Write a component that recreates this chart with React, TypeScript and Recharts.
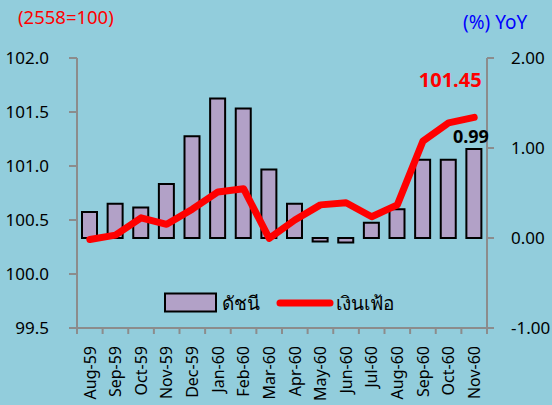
import React from 'react';
import { ComposedChart, Bar, Line, XAxis, YAxis, LabelList, Legend } from 'recharts';

const months = ['Aug-59', 'Sep-59', 'Oct-59', 'Nov-59', 'Dec-59', 'Jan-60', 'Feb-60', 'Mar-60', 'Apr-60', 'May-60', 'Jun-60', 'Jul-60', 'Aug-60', 'Sep-60', 'Oct-60', 'Nov-60'];
const yoyValues = [0.29, 0.38, 0.34, 0.6, 1.13, 1.55, 1.44, 0.76, 0.38, -0.04, -0.05, 0.17, 0.32, 0.87, 0.87, 0.99];
const indexValues = [100.32, 100.36, 100.52, 100.46, 100.6, 100.76, 100.79, 100.33, 100.5, 100.64, 100.66, 100.53, 100.64, 101.23, 101.4, 101.45];
const leftTicks = [99.5, 100.0, 100.5, 101.0, 101.5, 102.0];
const rightTicks = [-1, 0, 1, 2];
const barName = 'ดัชนี';
const lineName = 'เงินเฟ้อ';
const leftTitle = '(2558=100)';
const rightTitle = '(%) YoY';

const data = months.map((m, i) => ({ month: m, yoy: yoyValues[i], index: indexValues[i] }));
const last = months.length - 1;

const FONT = '"Noto Sans", "DejaVu Sans", sans-serif';
const BG = '#92CDDC';
const AXIS = '#8C8C8C';

const XTick = (props: any) => {
  const { x, y, payload, index } = props;
  const half = payload && payload.offset ? payload.offset : 12.8;
  const ty = y + 18;
  return (
    <g>
      <line x1={x - half} x2={x - half} y1={y} y2={y + 6} stroke={AXIS} strokeWidth={2} />
      {index === last ? <line x1={x + half} x2={x + half} y1={y} y2={y + 6} stroke={AXIS} strokeWidth={2} /> : null}
      <text x={x} y={ty} transform={`rotate(-90, ${x}, ${ty})`} textAnchor="end" dy="0.36em" fontSize={16} fill="#000" fontFamily={FONT}>
        {payload.value}
      </text>
    </g>
  );
};

const LineLabel = (props: any) => {
  const { x, y, index, value } = props;
  if (index !== last) return null;
  return (
    <text x={x - 24} y={y - 38} textAnchor="middle" dominantBaseline="central" fill="#FF0000" fontWeight="bold" fontSize={20} fontFamily={FONT}>
      {Number(value).toFixed(2)}
    </text>
  );
};

const BarLabel = (props: any) => {
  const { x, y, width, index, value } = props;
  if (index !== last) return null;
  return (
    <text x={x + width / 2 - 3} y={y - 13} textAnchor="middle" dominantBaseline="central" fill="#000" fontWeight="bold" fontSize={18} fontFamily={FONT}>
      {Number(value).toFixed(2)}
    </text>
  );
};

const LegendContent = () => (
  <div style={{ display: 'flex', alignItems: 'center', fontFamily: FONT, fontSize: 19, color: '#000', whiteSpace: 'nowrap' }}>
    <svg width={54} height={22} style={{ display: 'block' }}>
      <rect x={1} y={1.5} width={51} height={18} fill="#B2A1C7" stroke="#000" strokeWidth={2} />
    </svg>
    <span style={{ marginLeft: 4, marginRight: 16 }}>{barName}</span>
    <svg width={58} height={22} style={{ display: 'block' }}>
      <line x1={4} x2={54} y1={11} y2={11} stroke="#FF0000" strokeWidth={7} strokeLinecap="round" />
    </svg>
    <span style={{ marginLeft: 2 }}>{lineName}</span>
  </div>
);

export default function App() {
  return (
    <div style={{ position: 'absolute', left: 0, top: 0, width: 552, height: 405, background: BG, overflow: 'hidden' }}>
      <div style={{ position: 'absolute', left: 18, top: 4, fontFamily: FONT, fontSize: 18.5, color: '#FF0000', lineHeight: '26px' }}>{leftTitle}</div>
      <div style={{ position: 'absolute', left: 463, top: 9, fontFamily: FONT, fontSize: 19, color: '#0000FF', lineHeight: '26px' }}>{rightTitle}</div>
      <ComposedChart width={552} height={405} data={data} margin={{ top: 58, right: 0, bottom: 0, left: 0 }} barSize={15}>
        <XAxis
          dataKey="month"
          xAxisId="x"
          height={77}
          interval={0}
          axisLine={{ stroke: AXIS, strokeWidth: 2 }}
          tickLine={false}
          tickSize={0}
          tickMargin={0}
          tick={<XTick />}
        />
        <YAxis
          yAxisId="left"
          orientation="left"
          width={77}
          domain={[99.5, 102]}
          ticks={leftTicks}
          interval={0}
          tickFormatter={(v: number) => v.toFixed(1)}
          axisLine={{ stroke: AXIS, strokeWidth: 2 }}
          tickLine={{ stroke: AXIS, strokeWidth: 2 }}
          tickSize={8}
          tickMargin={20}
          tick={{ fill: '#000', fontSize: 17, fontFamily: FONT }}
        />
        <YAxis
          yAxisId="right"
          orientation="right"
          width={65}
          domain={[-1, 2]}
          ticks={rightTicks}
          interval={0}
          tickFormatter={(v: number) => v.toFixed(2)}
          axisLine={{ stroke: AXIS, strokeWidth: 2 }}
          tickLine={{ stroke: AXIS, strokeWidth: 2 }}
          tickSize={7}
          tickMargin={17}
          tick={{ fill: '#000', fontSize: 17, fontFamily: FONT }}
        />
        <Legend
          layout="horizontal"
          verticalAlign="middle"
          align="center"
          content={<LegendContent />}
          wrapperStyle={{ position: 'absolute', left: 164, top: 288, width: 260, height: 24 }}
        />
        <Bar dataKey="yoy" name={barName} xAxisId="x" yAxisId="right" fill="#B2A1C7" stroke="#000" strokeWidth={2} isAnimationActive={false}>
          <LabelList dataKey="yoy" content={<BarLabel />} />
        </Bar>
        <Line
          dataKey="index"
          name={lineName}
          xAxisId="x"
          yAxisId="left"
          stroke="#FF0000"
          strokeWidth={7}
          strokeLinecap="round"
          strokeLinejoin="round"
          dot={false}
          activeDot={false}
          isAnimationActive={false}
        >
          <LabelList dataKey="index" content={<LineLabel />} />
        </Line>
      </ComposedChart>
    </div>
  );
}
